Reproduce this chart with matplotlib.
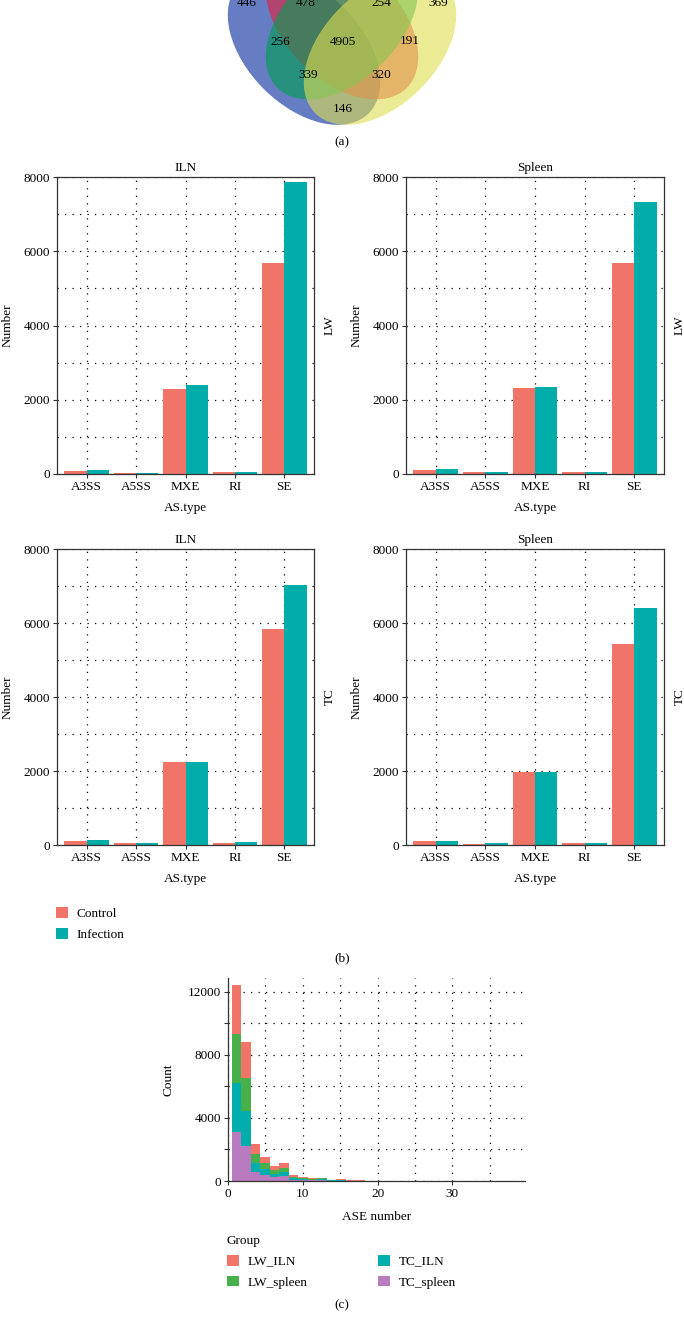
import numpy as np
import matplotlib
matplotlib.use("Agg")
import matplotlib.pyplot as plt
from matplotlib.patches import Ellipse, Patch

plt.rcParams['font.family'] = ['Liberation Serif', 'DejaVu Serif']
plt.rcParams['font.size'] = 9.5

W, H = 684, 1323

# ---- (a) Venn region counts
venn_counts = [446, 478, 254, 369, 256, 4905, 191, 339, 320, 146]

# ---- (b) AS events per type
as_types = ["A3SS", "A5SS", "MXE", "RI", "SE"]
conditions = ["Control", "Infection"]
lw_iln_control = [90, 36, 2300, 54, 5680]
lw_iln_infection = [108, 36, 2390, 54, 7865]
lw_spleen_control = [108, 54, 2305, 54, 5675]
lw_spleen_infection = [126, 54, 2340, 54, 7340]
tc_iln_control = [108, 54, 2235, 54, 5830]
tc_iln_infection = [126, 54, 2250, 72, 7035]
tc_spleen_control = [108, 36, 1965, 54, 5425]
tc_spleen_infection = [108, 54, 1980, 54, 6415]

# ---- (c) ASE number histogram (stacked counts per bin)
hist_groups = ["LW_ILN", "LW_spleen", "TC_ILN", "TC_spleen"]
lw_iln_hist = [3085, 2285, 635, 425, 275, 295, 100, 75, 50, 60, 25, 28, 10, 8, 5,
               3, 2, 2, 1, 1, 1, 1, 0, 1, 0, 0, 1, 0, 0, 1]
lw_spleen_hist = [3150, 2115, 570, 360, 255, 295, 100, 70, 45, 55, 23, 25, 10, 8, 5,
                  3, 2, 2, 1, 1, 1, 0, 1, 0, 0, 1, 0, 0, 0, 0]
tc_iln_hist = [3065, 2200, 530, 380, 190, 235, 90, 70, 45, 55, 22, 25, 10, 8, 5,
               3, 2, 1, 1, 1, 0, 1, 0, 0, 1, 0, 0, 0, 1, 0]
tc_spleen_hist = [3130, 2240, 590, 380, 255, 315, 90, 65, 40, 50, 20, 22, 10, 8, 5,
                  3, 2, 1, 1, 0, 1, 0, 0, 1, 0, 0, 0, 1, 0, 0]
bin_start, bin_width = 0.53, 1.27

c_control, c_infection = "#F07468", "#00ADA9"
hist_colors = {"LW_ILN": "#F07468", "LW_spleen": "#47B04A",
               "TC_ILN": "#00AFAD", "TC_spleen": "#B97BBF"}
grid_kw = dict(color="black", linestyle=(0, (1, 5)), linewidth=0.9)


def px_rect(l, t, r, b):
    return [l / W, 1 - b / H, (r - l) / W, (b - t) / H]


fig = plt.figure(figsize=(W / 100, H / 100), dpi=100)

# ---------------- (a) Venn (top of the diagram is cropped, as in the source)
ax_v = fig.add_axes(px_rect(0, 0, W, 130))
ax_v.set_xlim(0, W)
ax_v.set_ylim(130, 0)
ax_v.axis("off")
venn_sets = [((304, 48.6), 45, "#00269B"),
             ((342, 23.2), 45, "#E61E3C"),
             ((342, 23.2), -45, "#00A050"),
             ((380, 48.6), -45, "#DEDE50")]
for (cx, cy), ang, col in venn_sets:
    ax_v.add_patch(Ellipse((cx, cy), 183, 114, angle=ang, facecolor=col,
                           edgecolor="none", alpha=0.6))
venn_pos = [(246.7, 3.5), (306, 3.5), (381, 3.5), (438, 3.5), (280, 41.7),
            (342.7, 41.7), (410, 40.7), (307.7, 75), (381, 75), (342.7, 109.3)]
for n, (x, y) in zip(venn_counts, venn_pos):
    ax_v.text(x, y, str(n), ha="center", va="center", fontsize=9.5)
fig.text(342 / W, 1 - 142 / H, "(a)", ha="center", va="center")

# ---------------- (b) bar panels
panels = [((57, 177, 314, 474), lw_iln_control, lw_iln_infection, "ILN", "LW"),
          ((406, 177, 664, 474), lw_spleen_control, lw_spleen_infection, "Spleen", "LW"),
          ((57, 549, 314, 845), tc_iln_control, tc_iln_infection, "ILN", "TC"),
          ((406, 549, 664, 845), tc_spleen_control, tc_spleen_infection, "Spleen", "TC")]
x = np.arange(len(as_types))
for rect, ctrl, inf, title, row in panels:
    ax = fig.add_axes(px_rect(*rect))
    ax.bar(x - 0.225, ctrl, width=0.45, color=c_control, zorder=2)
    ax.bar(x + 0.225, inf, width=0.45, color=c_infection, zorder=2)
    ax.set_xlim(-0.6, 4.6)
    ax.set_ylim(0, 8000)
    ax.set_xticks(x)
    ax.set_xticklabels(as_types)
    ax.set_yticks([0, 2000, 4000, 6000, 8000])
    ax.set_yticks([1000, 3000, 5000, 7000], minor=True)
    ax.tick_params(which="major", length=3, width=0.8, color="#333333", pad=2)
    ax.tick_params(which="minor", length=0)
    ax.grid(True, which="both", zorder=0, **grid_kw)
    ax.set_axisbelow(True)
    for s in ax.spines.values():
        s.set_color("#333333")
        s.set_linewidth(0.9)
    ax.set_title(title, pad=4, fontsize=9.5)
    ax.set_ylabel("Number", va="center")
    ax.yaxis.set_label_coords(-49 / (rect[2] - rect[0]), 0.5)
    ax.set_xlabel("AS.type", va="center")
    ax.xaxis.set_label_coords(0.5, -34 / (rect[3] - rect[1]))
    ax.text(1 + 16 / (rect[2] - rect[0]), 0.5, row, rotation=90, ha="center",
            va="center", transform=ax.transAxes)

handles_b = [Patch(facecolor=c_control), Patch(facecolor=c_infection)]
fig.legend(handles_b, conditions, loc="upper left",
           bbox_to_anchor=(53 / W, 1 - 904 / H), frameon=False,
           handlelength=0.9, handleheight=0.9, handletextpad=0.7,
           labelspacing=0.62, borderaxespad=0, borderpad=0.2)
fig.text(342 / W, 1 - 958 / H, "(b)", ha="center", va="center")

# ---------------- (c) histogram
ymax = 12900
ax_h = fig.add_axes(px_rect(228, 1181 - ymax * 0.01577, 525, 1181))
edges = bin_start + bin_width * np.arange(len(lw_iln_hist))
bottom = np.zeros(len(edges))
for name, vals in [("TC_spleen", tc_spleen_hist), ("TC_ILN", tc_iln_hist),
                   ("LW_spleen", lw_spleen_hist), ("LW_ILN", lw_iln_hist)]:
    ax_h.bar(edges, vals, width=bin_width, bottom=bottom, align="edge",
             color=hist_colors[name], zorder=2)
    bottom = bottom + np.array(vals)
ax_h.set_xlim(0, 39.7)
ax_h.set_ylim(0, ymax)
ax_h.set_xticks([0, 10, 20, 30])
ax_h.set_xticks([5, 15, 25, 35], minor=True)
ax_h.set_yticks([0, 4000, 8000, 12000])
ax_h.set_yticks([2000, 6000, 10000], minor=True)
ax_h.tick_params(which="both", length=3, width=0.8, color="#333333", pad=2)
ax_h.tick_params(axis="x", which="minor", length=0)
ax_h.grid(True, which="both", zorder=0, **grid_kw)
ax_h.set_axisbelow(True)
for side in ["top", "right"]:
    ax_h.spines[side].set_visible(False)
for side in ["left", "bottom"]:
    ax_h.spines[side].set_color("#333333")
    ax_h.spines[side].set_linewidth(0.9)
ax_h.set_ylabel("Count", va="center")
ax_h.yaxis.set_label_coords(-60 / 297, 0.5)
ax_h.set_xlabel("ASE number", va="center")
ax_h.xaxis.set_label_coords(0.5, -36 / (ymax * 0.01577))

handles_c = [Patch(facecolor=hist_colors[g]) for g in hist_groups]
leg = fig.legend(handles_c, hist_groups, loc="upper left", ncol=2, title="Group",
                 bbox_to_anchor=(224 / W, 1 - 1232 / H), frameon=False,
                 handlelength=0.9, handleheight=0.9, handletextpad=0.7,
                 labelspacing=0.6, columnspacing=5.3, borderaxespad=0,
                 borderpad=0.2, alignment="left", title_fontsize=9.5)
fig.text(342 / W, 1 - 1305 / H, "(c)", ha="center", va="center")

fig.savefig("out.png", dpi=100)
